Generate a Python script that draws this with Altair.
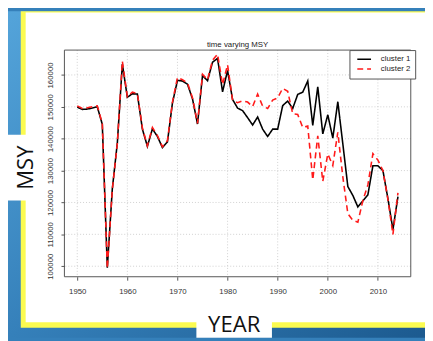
import altair as alt
import pandas as pd

# ---------------- data ----------------
years = list(range(1950, 2015))
cluster1 = [
    149900, 149200, 149300, 149600, 150000, 144500, 99500, 124300, 138700, 163400,
    153000, 154100, 154000, 143000, 137600, 143100, 140700, 137200, 139000, 151200,
    158300, 158100, 157100, 152500, 144600, 159800, 158200, 164000, 165200, 154700,
    161400, 152300, 149600, 148800, 146600, 144300, 146800, 143000, 140700, 143000,
    143000, 150400, 151800, 149500, 153900, 154600, 158100, 144200, 156300, 141500,
    147500, 140200, 151600, 138400, 125000, 122200, 118600, 120500, 122400, 131500,
    131500, 130000, 121200, 111500, 121800,
]
cluster2 = [
    150300, 149500, 149700, 150000, 150300, 144800, 99300, 124000, 138500, 164300,
    153200, 154600, 154200, 143400, 137800, 143500, 141000, 137500, 139400, 151500,
    159200, 158500, 157500, 152800, 144800, 160200, 158500, 164600, 166500, 157000,
    163200, 152000, 151300, 151900, 151500, 150100, 154000, 150200, 149500, 152100,
    152800, 155800, 154900, 147800, 147600, 143500, 144000, 127100, 140900, 126600,
    135200, 131600, 142000, 128000, 116500, 114400, 113800, 120600, 125500, 135300,
    133300, 130000, 121000, 110000, 123000,
]
series_names = ["cluster 1", "cluster 2"]
x_ticks = [1950, 1960, 1970, 1980, 1990, 2000, 2010]
y_ticks = [100000, 110000, 120000, 130000, 140000, 150000, 160000]
title_text = "time varying MSY"
x_title = "YEAR"
y_title = "MSY"

df = pd.DataFrame({
    "year": years * 2,
    "msy": cluster1 + cluster2,
    "series": [series_names[0]] * len(years) + [series_names[1]] * len(years),
})
xgrid = pd.DataFrame({"year": x_ticks})
ygrid = pd.DataFrame({"msy": y_ticks})
one = pd.DataFrame({"k": [0]})

# ---------------- layout ----------------
W, H = 353, 231
PL, PT = 57.5, 39.7          # plot origin inside the canvas
CW, CH = 425, 333            # canvas size
PR, PB = CW - PL - W, CH - PT - H
OX, OY = PL + 8, PT + 8      # plot origin in page pixels


def px(v):
    return v - OX


def py(v):
    return v - OY


LABEL_FONT = "Liberation Sans"
BIG_FONT = "Open Sans"

xscale = alt.Scale(domain=[1947.44, 2016.56], nice=False, zero=False)
yscale = alt.Scale(domain=[96700, 167800], nice=False, zero=False)

xaxis = alt.Axis(
    values=x_ticks, format="d", grid=False, domain=False,
    tickSize=3.5, tickColor="#555", labelPadding=7.5, labelFontSize=8,
    labelFont=LABEL_FONT, labelColor="#333", labelOverlap=False, labelFlush=False,
    title=x_title, titleFont=BIG_FONT, titleFontSize=22.5, titleFontWeight="normal",
    titleColor="#111", titleX=px(238), titleY=py(335) - H, titleAlign="center",
    titleBaseline="alphabetic", titleAnchor="start", zindex=1,
)
yaxis = alt.Axis(
    values=y_ticks, format="d", grid=False, domain=False,
    tickSize=3.5, tickColor="#555", labelPadding=7, labelFontSize=8,
    labelFont=LABEL_FONT, labelColor="#333", labelAngle=270, labelAlign="center",
    labelBaseline="bottom", labelOverlap=False, labelFlush=False,
    title=y_title, titleFont=BIG_FONT, titleFontSize=22.5, titleFontWeight="normal",
    titleColor="#111", titleX=px(33.3), titleY=py(167), titleAngle=270,
    titleAlign="center", titleBaseline="alphabetic", titleAnchor="start", zindex=1,
)

# ---------------- decorations ----------------
grad = alt.LinearGradient(
    gradient="linear",
    stops=[alt.GradientStop(color="#54a4da", offset=0),
           alt.GradientStop(color="#3580ba", offset=0.5),
           alt.GradientStop(color="#1c5a8f", offset=1)],
    x1=0, y1=0, x2=1, y2=1,
)


def box(x1, x2, y1, y2, **kw):
    return alt.Chart(one).mark_rect(**kw).encode(
        x=alt.value(px(x1)), x2=alt.value(px(x2)),
        y=alt.value(py(y1)), y2=alt.value(py(y2)),
    )


TOP = 8  # canvas top in page pixels
bg = box(8, 433, TOP, 341, color=grad)
yellow = box(21, 433, TOP, 330.7, color="#fbfb50")
white = box(26, 433, 9.3, 325, color="white")
msy_box = box(8, 30, 134, 201, color="white")
year_box = box(200, 277, 316, 341, color="white")

# ---------------- grid ----------------
vgrid = alt.Chart(xgrid).mark_rule(color="#d0d0d0", strokeDash=[1, 2], strokeWidth=1).encode(
    x=alt.X("year:Q", scale=xscale, axis=xaxis)
)
hgrid = alt.Chart(ygrid).mark_rule(color="#d0d0d0", strokeDash=[1, 2], strokeWidth=1).encode(
    y=alt.Y("msy:Q", scale=yscale, axis=yaxis)
)

legend = alt.Legend(
    orient="none", legendX=px(356), legendY=py(47.7), title=None, direction="vertical",
    strokeColor="#555", fillColor="white", padding=4.5, cornerRadius=0,
    symbolType="stroke", symbolSize=196, symbolStrokeWidth=1.6, clipHeight=9.5,
    rowPadding=0, symbolOffset=2.5, labelOffset=9, labelFontSize=8,
    labelFont=LABEL_FONT, labelColor="#222",
)

lines = alt.Chart(df).mark_line(strokeWidth=1.6).encode(
    x=alt.X("year:Q", scale=xscale, axis=xaxis),
    y=alt.Y("msy:Q", scale=yscale, axis=yaxis),
    color=alt.Color("series:N", scale=alt.Scale(domain=series_names, range=["#000000", "#ff1a1a"]),
                    legend=legend),
    strokeDash=alt.StrokeDash("series:N", scale=alt.Scale(domain=series_names, range=[[1, 0], [6, 4]]),
                              legend=legend),
    order=alt.Order("year:Q"),
)

frame = alt.Chart(one).mark_rect(fill=None, stroke="#555", strokeWidth=1).encode(
    x=alt.value(0), x2=alt.value(W), y=alt.value(0), y2=alt.value(H)
)

# the decorations reach the canvas top, so pull the title back down onto the plot
title_offset = -(OY - TOP - 1.0)

chart = alt.layer(
    bg, yellow, white, msy_box, year_box, vgrid, hgrid, lines, frame
).properties(
    width=W, height=H,
    title=alt.TitleParams(title_text, fontSize=8, font=LABEL_FONT, fontWeight="normal",
                          color="#222", offset=title_offset, anchor="middle"),
    padding={"left": PL, "top": PT, "right": PR, "bottom": PB},
    autosize=alt.AutoSizeParams(type="none"),
).configure_view(stroke=None).configure(background="#3580ba")

chart.save("out.html", embed_options={"renderer": "svg", "actions": False})
